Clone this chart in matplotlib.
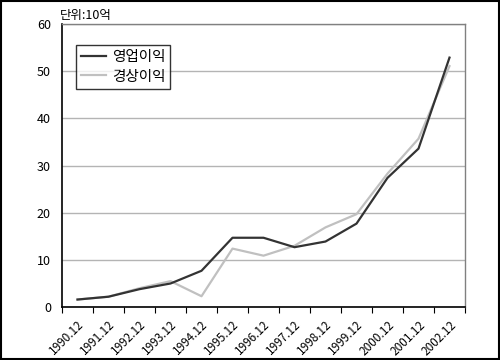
import matplotlib
matplotlib.use("Agg")
import matplotlib.pyplot as plt
from matplotlib.patches import Rectangle

plt.rcParams['font.family'] = ['Noto Sans CJK KR', 'DejaVu Sans']

categories = ["1990.12", "1991.12", "1992.12", "1993.12", "1994.12", "1995.12", "1996.12",
              "1997.12", "1998.12", "1999.12", "2000.12", "2001.12", "2002.12"]
operating = [1.6, 2.2, 3.8, 5.0, 7.7, 14.7, 14.7, 12.7, 13.9, 17.7, 27.4, 33.6, 52.9]
ordinary = [1.6, 2.2, 4.0, 5.5, 2.3, 12.4, 10.9, 13.0, 16.9, 19.7, 28.3, 35.7, 51.1]
series_names = ["영업이익", "경상이익"]
unit_label = "단위:10억"

fig = plt.figure(figsize=(5, 3.6), dpi=100)
ax = fig.add_axes([0.124, 0.147, 0.806, 0.786])

x = list(range(len(categories)))
ax.plot(x, operating, color="#333333", lw=1.6, label=series_names[0], zorder=3)
ax.plot(x, ordinary, color="#c0c0c0", lw=1.6, label=series_names[1], zorder=2)

ax.set_xlim(-0.5, len(categories) - 0.5)
ax.set_ylim(0, 60)
ax.set_yticks(range(0, 61, 10))
ax.yaxis.grid(True, color="#b4b4b4", lw=1)
ax.set_axisbelow(True)
ax.tick_params(axis='y', length=0, labelsize=9, pad=8)

ax.set_xticks([i - 0.5 for i in range(len(categories) + 1)], minor=False)
ax.set_xticklabels([])
ax.tick_params(axis='x', which='major', length=4, direction='out', color='black')
ax.set_xticks(x, minor=True)
ax.set_xticklabels(categories, minor=True, rotation=45, ha='right', va='top',
                   rotation_mode='anchor', fontsize=8.5)
ax.tick_params(axis='x', which='minor', length=0, pad=8)

for s in ['top', 'right']:
    ax.spines[s].set_color('#808080')
    ax.spines[s].set_linewidth(1)
for s in ['left', 'bottom']:
    ax.spines[s].set_color('black')
    ax.spines[s].set_linewidth(1.2)

leg = ax.legend(loc='upper left', bbox_to_anchor=(0.035, 0.925), frameon=True, fancybox=False,
                edgecolor='black', fontsize=10.5, handlelength=1.7, borderpad=0.35,
                labelspacing=0.35, handletextpad=0.4, borderaxespad=0)
leg.get_frame().set_linewidth(1.0)

fig.text(0.12, 0.94, unit_label, fontsize=9, ha='left', va='bottom')

fig.patches.append(Rectangle((0.002, 0.003), 0.995, 0.994, transform=fig.transFigure,
                             fill=False, edgecolor='black', lw=1.5))

fig.savefig("out.png", dpi=100)
